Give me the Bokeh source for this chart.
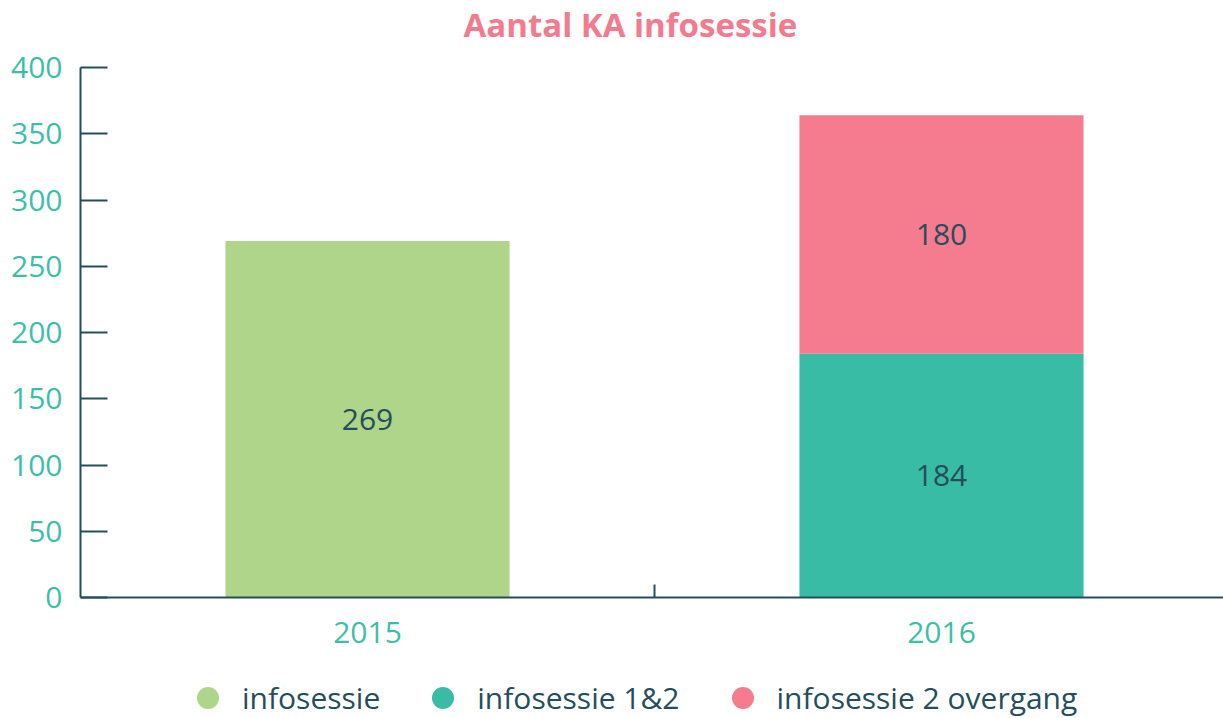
import math
from bokeh.plotting import figure
from bokeh.layouts import column
from bokeh.models import (ColumnDataSource, Range1d, FixedTicker, SingleIntervalTicker,
                          Legend, LegendItem, Label)
from bokeh.core.properties import value
from bokeh.embed import file_html
from bokeh.resources import INLINE

# ---- data ----
years = ["2015", "2016"]
series_names = ["infosessie", "infosessie 1&2", "infosessie 2 overgang"]
infosessie = [269, 0]
infosessie_12 = [0, 184]
infosessie_2_overgang = [0, 180]
y_ticks_max = 400
title_text = "Aantal KA infosessie"

colors = ["#aed58a", "#38bca6", "#f57b8f"]
DARK = "#264e5a"
TEAL = "#3cbfa6"
PINK_TITLE = "#f47b8e"
FONT = "Open Sans"
FS = "30px"

def bare(fig):
    fig.axis.visible = False
    fig.grid.visible = False
    fig.outline_line_color = None
    fig.min_border_left = fig.min_border_right = fig.min_border_top = fig.min_border_bottom = 0

# ---- header with title ----
hf = figure(width=1223, height=47, output_backend="svg", toolbar_location=None,
            x_range=Range1d(0, 1), y_range=Range1d(0, 1))
bare(hf)
hf.add_layout(Label(x=383, y=23, x_units="screen", y_units="screen", text=title_text,
                    text_font=FONT, text_font_size="33px", text_font_style="bold",
                    text_color=PINK_TITLE, text_align="left", text_baseline="alphabetic"))

# ---- main chart ----
xs = [i + 0.5 for i in range(len(years))]
keys = ["s0", "s1", "s2"]
src = ColumnDataSource(dict(x=xs, s0=infosessie, s1=infosessie_12, s2=infosessie_2_overgang))

p = figure(width=1223, height=611, output_backend="svg", toolbar_location=None,
           x_range=Range1d(0, len(years) * 1143 / 1148), y_range=Range1d(0, y_ticks_max),
           min_border_left=80, min_border_right=0, min_border_top=20, min_border_bottom=61)
p.outline_line_color = None
p.grid.visible = False

p.vbar_stack(keys, x="x", width=0.495, source=src, color=colors, line_color=None)

# segment labels
lx, ly, lt = [], [], []
for i, x in enumerate(xs):
    base = 0
    for arr in (infosessie, infosessie_12, infosessie_2_overgang):
        v = arr[i]
        if v > 0:
            lx.append(x); ly.append(base + v / 2); lt.append(str(v))
        base += v
p.text(x=lx, y=ly, text=lt, text_align="center", text_baseline="middle",
       text_font=value(FONT), text_font_size=FS, text_color=DARK)

# y axis
ya = p.yaxis[0]
ya.ticker = SingleIntervalTicker(interval=50)
ya.axis_line_color = DARK
ya.axis_line_width = 2
ya.major_tick_line_color = DARK
ya.major_tick_line_width = 2
ya.major_tick_in = 27
ya.major_tick_out = 0
ya.minor_tick_line_color = None
ya.major_label_text_color = TEAL
ya.major_label_text_font = FONT
ya.major_label_text_font_size = FS
ya.major_label_standoff = 14

# x axis
xa = p.xaxis[0]
xa.ticker = FixedTicker(ticks=xs, minor_ticks=[i for i in range(1, len(years))])
xa.major_label_overrides = {x: y for x, y in zip(xs, years)}
xa.axis_line_color = DARK
xa.axis_line_width = 2
xa.major_tick_line_color = None
xa.minor_tick_line_color = DARK
xa.minor_tick_line_width = 2
xa.minor_tick_in = 13
xa.minor_tick_out = 0
xa.major_label_text_color = TEAL
xa.major_label_text_font = FONT
xa.major_label_text_font_size = FS
xa.major_label_standoff = 18

# ---- legend strip (circle markers) ----
lf = figure(width=1223, height=60, output_backend="svg", toolbar_location=None,
            x_range=Range1d(0, 1), y_range=Range1d(0, 1))
bare(lf)
dummies = [lf.scatter(x=[math.nan], y=[math.nan], marker="circle", size=22, color=c, line_color=None)
           for c in colors]
legend = Legend(items=[LegendItem(label=n, renderers=[r]) for n, r in zip(series_names, dummies)],
                orientation="horizontal", location=(100, -7))
legend.glyph_width = 55
legend.glyph_height = 55
legend.label_standoff = 7
legend.spacing = 35
legend.padding = 0
legend.margin = 0
legend.border_line_color = None
legend.background_fill_alpha = 0
legend.label_text_font = FONT
legend.label_text_font_size = FS
legend.label_text_color = DARK
lf.add_layout(legend)

layout = column(hf, p, lf, spacing=0)
open("out.html", "w").write(file_html(layout, INLINE))
